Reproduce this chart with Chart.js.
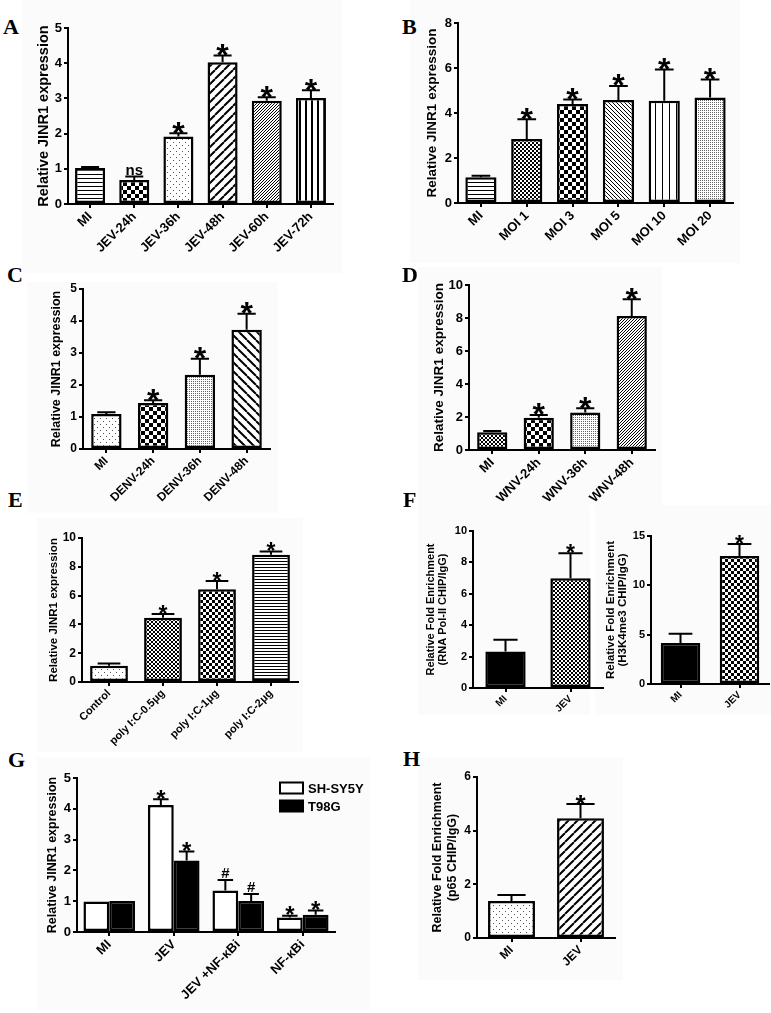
<!DOCTYPE html>
<html><head><meta charset="utf-8">
<script src="https://cdn.jsdelivr.net/npm/chart.js@4.4.0/dist/chart.umd.min.js"></script>
<style>
body{margin:0;background:#fff;width:771px;height:1013px;position:relative;overflow:hidden;font-family:"Liberation Sans",Arial,sans-serif;}
.box{position:absolute;z-index:2;}
.lt{position:absolute;z-index:3;font-family:"Liberation Serif","Times New Roman",serif;font-weight:bold;font-size:22px;line-height:22px;}
.bg{position:absolute;z-index:1;background:#fbfbfb;}
</style></head><body>
<div class="bg" style="left:22px;top:0px;width:320px;height:273px"></div>
<div class="bg" style="left:410px;top:0px;width:330px;height:263px"></div>
<div class="bg" style="left:27px;top:282px;width:251px;height:231px"></div>
<div class="bg" style="left:418px;top:267px;width:244px;height:238px"></div>
<div class="bg" style="left:37px;top:518px;width:266px;height:234px"></div>
<div class="bg" style="left:418px;top:505px;width:172px;height:210px"></div>
<div class="bg" style="left:595px;top:505px;width:176px;height:210px"></div>
<div class="bg" style="left:37px;top:757px;width:333px;height:253px"></div>
<div class="bg" style="left:418px;top:757px;width:205px;height:223px"></div>
<div class="lt" style="left:3px;top:16px">A</div>
<div class="lt" style="left:402px;top:16px">B</div>
<div class="lt" style="left:7px;top:264px">C</div>
<div class="lt" style="left:402px;top:264px">D</div>
<div class="lt" style="left:8px;top:489px">E</div>
<div class="lt" style="left:403px;top:489px">F</div>
<div class="lt" style="left:8px;top:749px">G</div>
<div class="lt" style="left:403px;top:748px">H</div>
<script>
// ---------- DATA ----------
const aLabels = ['MI','JEV-24h','JEV-36h','JEV-48h','JEV-60h','JEV-72h'];
const aValues = [1.02,0.68,1.92,4.03,2.93,3.01];
const aErrors = [0.03,0.10,0.09,0.19,0.10,0.22];
const aMarks  = ['','ns','*','*','*','*'];

const bLabels = ['MI','MOI 1','MOI 3','MOI 5','MOI 10','MOI 20'];
const bValues = [1.14,2.85,4.40,4.58,4.55,4.69];
const bErrors = [0.07,0.87,0.20,0.62,1.38,0.80];
const bMarks  = ['','*','*','*','*','*'];

const cLabels = ['MI','DENV-24h','DENV-36h','DENV-48h'];
const cValues = [1.09,1.44,2.32,3.73];
const cErrors = [0.06,0.08,0.50,0.50];
const cMarks  = ['','*','*','*'];

const dLabels = ['MI','WNV-24h','WNV-36h','WNV-48h'];
const dValues = [1.07,1.96,2.28,8.12];
const dErrors = [0.08,0.16,0.25,1.01];
const dMarks  = ['','*','*','*'];

const eLabels = ['Control','poly I:C-0.5\u03bcg','poly I:C-1\u03bcg','poly I:C-2\u03bcg'];
const eValues = [1.12,4.47,6.44,8.84];
const eErrors = [0.16,0.25,0.58,0.23];
const eMarks  = ['','*','*','*'];

const fLabels = ['MI','JEV'];
const f1Values = [2.33,6.99];
const f1Errors = [0.74,1.59];
const f1Marks  = ['','*'];
const f2Values = [4.15,12.98];
const f2Errors = [0.94,1.21];
const f2Marks  = ['','*'];

const gLabels = ['MI','JEV','JEV +NF-\u03baBi','NF-\u03baBi'];
const gSeries = ['SH-SY5Y','T98G'];
const gShValues = [0.99,4.12,1.35,0.47];
const gShErrors = [0,0.19,0.34,0.06];
const gShMarks  = ['','*','#','*'];
const gTValues  = [1.01,2.32,1.01,0.56];
const gTErrors  = [0,0.29,0.22,0.14];
const gTMarks   = ['','*','#','*'];

const hLabels = ['MI','JEV'];
const hValues = [1.38,4.46];
const hErrors = [0.22,0.53];
const hMarks  = ['','*'];

// ---------- PATTERNS ----------
function tile(w,h,draw){const c=document.createElement('canvas');c.width=w;c.height=h;const x=c.getContext('2d');x.fillStyle='#fff';x.fillRect(0,0,w,h);x.fillStyle='#000';x.strokeStyle='#000';draw(x,w,h);return x.createPattern(c,'repeat');}
const hl=(s,lw=1)=>tile(s,s,(x)=>x.fillRect(0,0,s,lw));
const vl=(s,lw=1)=>tile(s,s,(x)=>x.fillRect(0,0,lw,s));
const chk=(s)=>tile(2*s,2*s,(x)=>{x.fillRect(0,0,s,s);x.fillRect(s,s,s,s);});
const dots=(s,col='#333')=>tile(s,s,(x)=>{x.fillStyle=col;x.fillRect(0,0,1,1);});
const dots2=(s,col='#333')=>tile(2*s,2*s,(x)=>{x.fillStyle=col;x.fillRect(0,0,1,1);x.fillRect(s,s,1,1);});
const diag=(s,lw,dir)=>tile(s,s,(x)=>{x.lineWidth=lw;x.beginPath();for(let k=-1;k<=1;k++){if(dir==='/'){x.moveTo(k*s,s);x.lineTo(k*s+s,0);}else{x.moveTo(k*s,0);x.lineTo(k*s+s,s);}}x.stroke();});

// ---------- PLUGINS ----------
const errPlugin={id:'err',afterDatasetsDraw(chart,args,o){
  const ctx=chart.ctx,ys=chart.scales.y;
  chart.data.datasets.forEach((ds,di)=>{
    const meta=chart.getDatasetMeta(di);
    meta.data.forEach((bar,i)=>{
      const v=ds.data[i],e=(ds.errors||[])[i]||0;
      const top=ys.getPixelForValue(v+e),x=bar.x,w=bar.width;
      ctx.save();ctx.strokeStyle='#000';ctx.lineWidth=o.lw||2;
      if(e>0){ctx.beginPath();ctx.moveTo(x,bar.y);ctx.lineTo(x,top);ctx.moveTo(x-w*o.cap,top);ctx.lineTo(x+w*o.cap,top);ctx.stroke();}
      const m=(ds.marks||[])[i];
      if(m){ctx.fillStyle='#000';ctx.textAlign='center';ctx.textBaseline='alphabetic';
        if(m==='*'){ctx.font='bold '+o.star+'px "Liberation Sans", Arial';ctx.fillText(m,x,top-o.gap+0.40*o.star);}
        else{ctx.font='bold '+o.other+'px "Liberation Sans", Arial';ctx.fillText(m,x,top-o.gap);}
      }
      ctx.restore();
    });
  });
}};
const legPlugin={id:'leg',afterDraw(chart,args,o){
  if(!o.show)return;const ctx=chart.ctx,ca=chart.chartArea;
  chart.data.datasets.forEach((ds,i)=>{
    const x=ca.left+o.dx,y=ca.top+o.dy+i*o.step;
    ctx.save();ctx.fillStyle=ds.backgroundColor;ctx.fillRect(x,y-o.h/2,o.w,o.h);
    ctx.strokeStyle='#000';ctx.lineWidth=2;ctx.strokeRect(x,y-o.h/2,o.w,o.h);
    ctx.fillStyle='#000';ctx.font='bold '+o.font+'px "Liberation Sans", Arial';ctx.textBaseline='middle';ctx.textAlign='left';
    ctx.fillText(ds.label,x+o.w+5,y+1);ctx.restore();
  });
}};

Chart.defaults.font.family='"Liberation Sans", Arial, sans-serif';
Chart.defaults.color='#000';

function build(spec){
  const b=spec.box;
  const left=b.L-b.yW,top=b.T-b.padT;
  const div=document.createElement('div');div.className='box';
  div.style.left=left+'px';div.style.top=top+'px';
  div.style.width=(b.R+b.padR-left)+'px';div.style.height=(b.B+b.xH-top)+'px';
  const cv=document.createElement('canvas');div.appendChild(cv);document.body.appendChild(div);
  const axisGrid={display:true,drawOnChartArea:false,drawTicks:true,tickLength:4,color:'#000',lineWidth:2,offset:false};
  new Chart(cv,{
    type:'bar',
    data:{labels:spec.labels,datasets:spec.datasets.map(d=>({label:d.label,data:d.data,errors:d.errors,marks:d.marks,backgroundColor:d.bg,borderColor:'#000',borderWidth:2.5,borderSkipped:false,barPercentage:spec.barPct,categoryPercentage:spec.catPct}))},
    options:{
      responsive:true,maintainAspectRatio:false,devicePixelRatio:1,animation:false,
      layout:{padding:{top:b.padT,right:b.padR,left:0,bottom:0}},
      plugins:{legend:{display:false},tooltip:{enabled:false},
        err:{cap:spec.cap||0.3,star:spec.star,other:spec.other||14,gap:spec.gap||2.5,lw:2},
        leg:spec.leg||{show:false}},
      scales:{
        x:{grid:axisGrid,border:{display:true,color:'#000',width:2},
           ticks:{autoSkip:false,maxRotation:45,minRotation:45,padding:1,color:'#000',font:{size:spec.xFont,weight:'bold'}},
           afterFit(s){s.height=b.xH;}},
        y:{min:0,max:spec.yMax,grid:axisGrid,border:{display:true,color:'#000',width:2},
           ticks:{stepSize:spec.yStep,padding:2,color:'#000',font:{size:spec.yFont,weight:'bold'}},
           title:{display:true,text:spec.yTitle,color:'#000',padding:0,font:{size:spec.tFont,weight:'bold',lineHeight:spec.tLH||1.2}},
           afterFit(s){s.width=b.yW;}}
      }
    },
    plugins:[errPlugin,legPlugin]
  });
}

const JT='Relative JINR1 expression';
build({box:{L:68,T:28,R:333,B:204,yW:33,xH:70,padT:30,padR:8},labels:aLabels,yMax:5,yStep:1,yTitle:JT,tFont:14.5,yFont:13,xFont:13,star:32,other:15,gap:2,barPct:0.68,catPct:1,
  datasets:[{data:aValues,errors:aErrors,marks:aMarks,bg:[hl(4),chk(4),dots2(3,'#555'),diag(9,2,'/'),diag(3,1,'/'),vl(6,2)]}]});
build({box:{L:458,T:23,R:733,B:203,yW:34,xH:70,padT:25,padR:8},labels:bLabels,yMax:8,yStep:2,yTitle:JT,tFont:13.5,yFont:13,xFont:13,star:32,gap:2.5,barPct:0.68,catPct:1,
  datasets:[{data:bValues,errors:bErrors,marks:bMarks,bg:[hl(4),chk(2),chk(4),diag(4,1,'\\'),vl(7,1),dots(2,'#666')]}]});
build({box:{L:83,T:289,R:270,B:449,yW:34,xH:70,padT:30,padR:8},labels:cLabels,yMax:5,yStep:1,yTitle:JT,tFont:12.5,yFont:12,xFont:12,star:32,gap:2.5,barPct:0.65,catPct:1,
  datasets:[{data:cValues,errors:cErrors,marks:cMarks,bg:[dots2(3,'#555'),chk(4),dots(2,'#666'),diag(9,2,'\\')]}]});
build({box:{L:469,T:285,R:655,B:450,yW:38,xH:70,padT:30,padR:8},labels:dLabels,yMax:10,yStep:2,yTitle:JT,tFont:13.5,yFont:13,xFont:13,star:32,gap:2.5,barPct:0.65,catPct:1,
  datasets:[{data:dValues,errors:dErrors,marks:dMarks,bg:[chk(2),chk(4),dots(2,'#666'),diag(3,1,'/')]}]});
build({box:{L:82,T:538,R:298,B:682,yW:35,xH:70,padT:25,padR:8},labels:eLabels,yMax:10,yStep:2,yTitle:JT,tFont:11.5,yFont:12,xFont:11,star:23,gap:1.5,barPct:0.7,catPct:1,
  datasets:[{data:eValues,errors:eErrors,marks:eMarks,bg:[dots2(3,'#555'),chk(2),chk(3),hl(3)]}]});
build({box:{L:473,T:531,R:603,B:688,yW:48,xH:45,padT:25,padR:6},labels:fLabels,yMax:10,yStep:2,yTitle:['Relative Fold Enrichment','(RNA Pol-II CHIP/IgG)'],tFont:11,tLH:1.1,yFont:11,xFont:10,star:23,gap:1.5,barPct:0.62,catPct:1,
  datasets:[{data:f1Values,errors:f1Errors,marks:f1Marks,bg:['#000',chk(2)]}]});
build({box:{L:651,T:536,R:769,B:684,yW:46,xH:45,padT:25,padR:1},labels:fLabels,yMax:15,yStep:5,yTitle:['Relative Fold Enrichment','(H3K4me3 CHIP/IgG)'],tFont:11.5,tLH:1.05,yFont:11,xFont:10,star:23,gap:1.5,barPct:0.67,catPct:1,
  datasets:[{data:f2Values,errors:f2Errors,marks:f2Marks,bg:['#000',chk(3)]}]});
build({box:{L:77,T:778,R:335,B:932,yW:32,xH:80,padT:25,padR:40},labels:gLabels,yMax:5,yStep:1,yTitle:JT,tFont:12.5,yFont:13,xFont:13,star:24,other:15,gap:2,barPct:1,catPct:0.8,
  leg:{show:true,dx:203,dy:10,step:18,w:23,h:11,font:13},
  datasets:[{label:gSeries[0],data:gShValues,errors:gShErrors,marks:gShMarks,bg:'#fff'},{label:gSeries[1],data:gTValues,errors:gTErrors,marks:gTMarks,bg:'#000'}]});
build({box:{L:477,T:777,R:615,B:938,yW:47,xH:50,padT:25,padR:8},labels:hLabels,yMax:6,yStep:2,yTitle:['Relative Fold Enrichment','(p65 CHIP/IgG)'],tFont:12.5,yFont:12,xFont:12,star:26,gap:2,barPct:0.68,catPct:1,
  datasets:[{data:hValues,errors:hErrors,marks:hMarks,bg:[dots2(3,'#555'),diag(9,2,'/')]}]});
</script>
</body></html>
